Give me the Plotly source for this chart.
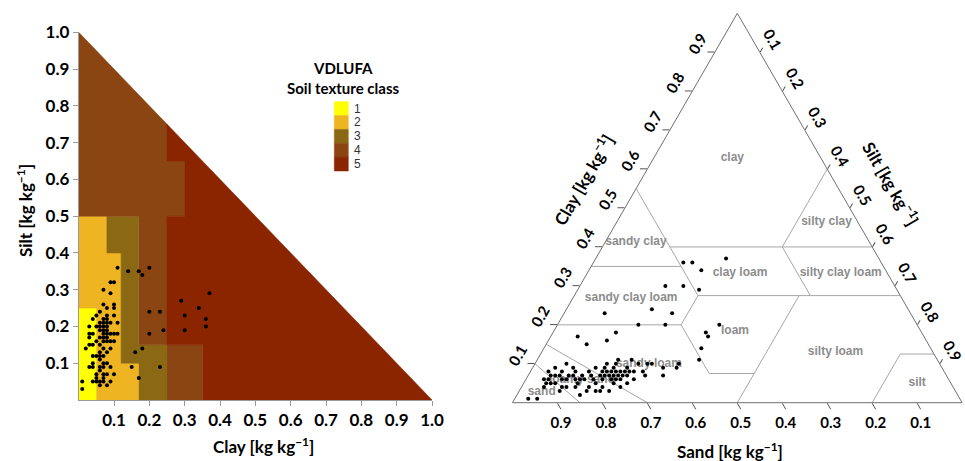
import plotly.graph_objects as go

W, H = 965, 461

# ---------------------------------------------------------------
# Sample composition (mass fractions, kg kg-1)
# ---------------------------------------------------------------
clay_frac = [
    0.01, 0.01,
    0.02,
    0.03, 0.03, 0.03, 0.03, 0.03,
    0.04, 0.04, 0.04, 0.04, 0.04, 0.04, 0.04,
    0.05, 0.05, 0.05, 0.05, 0.05, 0.05, 0.05,
    0.06, 0.06, 0.06, 0.06, 0.06, 0.06, 0.06, 0.06, 0.06, 0.06, 0.06, 0.06, 0.06,
    0.07, 0.07, 0.07, 0.07, 0.07, 0.07, 0.07, 0.07, 0.07, 0.07, 0.07, 0.07, 0.07, 0.07, 0.07, 0.07,
    0.08, 0.08, 0.08, 0.08, 0.08, 0.08, 0.08, 0.08, 0.08, 0.08, 0.08, 0.08, 0.08,
    0.09, 0.09, 0.09, 0.09, 0.09, 0.09, 0.09, 0.09,
    0.10, 0.10, 0.10, 0.10, 0.10, 0.10, 0.10,
    0.11, 0.11, 0.11,
    0.14, 0.17, 0.18, 0.20, 0.29, 0.37, 0.34, 0.20, 0.23, 0.30,
    0.36, 0.36, 0.24, 0.30, 0.20, 0.18, 0.16, 0.15, 0.23, 0.17,
]
silt_frac = [
    0.03, 0.05,
    0.14,
    0.09, 0.15, 0.17, 0.18, 0.20,
    0.05, 0.09, 0.10, 0.12, 0.15, 0.18, 0.22,
    0.05, 0.06, 0.07, 0.12, 0.16, 0.20, 0.23,
    0.04, 0.05, 0.08, 0.09, 0.11, 0.12, 0.13, 0.15, 0.17, 0.19, 0.20, 0.21, 0.24,
    0.05, 0.06, 0.07, 0.09, 0.10, 0.12, 0.14, 0.16, 0.17, 0.18, 0.19, 0.20, 0.21, 0.22, 0.26, 0.30,
    0.04, 0.07, 0.10, 0.13, 0.16, 0.17, 0.18, 0.19, 0.20, 0.21, 0.22, 0.23, 0.25,
    0.05, 0.09, 0.14, 0.16, 0.18, 0.21, 0.29, 0.32,
    0.07, 0.16, 0.18, 0.23, 0.25, 0.26, 0.32,
    0.18, 0.21, 0.36,
    0.35, 0.35, 0.34, 0.36, 0.27, 0.29, 0.25, 0.24, 0.24, 0.23,
    0.22, 0.20, 0.19, 0.19, 0.18, 0.14, 0.13, 0.09, 0.09, 0.06,
]
sand_frac = [round(1 - c - s, 3) for c, s in zip(clay_frac, silt_frac)]

# ---------------------------------------------------------------
# VDLUFA soil texture classes: polygons in (clay, silt) space
# ---------------------------------------------------------------
vdlufa_classes = ["1", "2", "3", "4", "5"]
vdlufa_colors = ["#FFFF00", "#EEB422", "#8B6914", "#8B4513", "#8B2500"]
vdlufa_polygons = [
    ("1", [0, 0.05, 0.05, 0], [0, 0, 0.25, 0.25]),
    ("2", [0.05, 0.17, 0.17, 0.12, 0.12, 0.08, 0.08, 0, 0, 0.05],
          [0, 0, 0.10, 0.10, 0.40, 0.40, 0.50, 0.50, 0.25, 0.25]),
    ("3", [0.17, 0.25, 0.25, 0.17, 0.17, 0.08, 0.08, 0.12, 0.12, 0.17],
          [0, 0, 0.15, 0.15, 0.50, 0.50, 0.40, 0.40, 0.10, 0.10]),
    ("4", [0.17, 0.25, 0.25, 0.30, 0.30, 0.25, 0.25, 0, 0, 0.17],
          [0.15, 0.15, 0.50, 0.50, 0.65, 0.65, 0.75, 1.0, 0.50, 0.50]),
    ("4", [0.25, 0.35, 0.35, 0.25], [0, 0, 0.15, 0.15]),
    ("5", [0.35, 1.0, 0.25, 0.25, 0.30, 0.30, 0.25, 0.25, 0.35],
          [0, 0, 0.75, 0.65, 0.65, 0.50, 0.50, 0.15, 0.15]),
]
axis_ticks = [0.1, 0.2, 0.3, 0.4, 0.5, 0.6, 0.7, 0.8, 0.9, 1.0]

# ---------------------------------------------------------------
# USDA texture triangle: boundary vertices (clay, silt, sand) in %
# ---------------------------------------------------------------
usda_clay = [55, 40, 40, 60, 40, 35, 35, 27.5, 27.5, 27.5, 20, 20, 7.5, 7.5, 0, 12.5, 12.5, 0, 15, 0, 10, 0, 27.5]
usda_silt = [0, 15, 40, 40, 60, 0, 20, 27.5, 52.5, 72.5, 0, 27.5, 40, 50, 50, 80, 87.5, 80, 0, 30, 0, 15, 50]
usda_sand = [45, 45, 20, 0, 0, 65, 45, 45, 20, 0, 80, 52.5, 52.5, 42.5, 50, 7.5, 0, 20, 85, 70, 90, 85, 22.5]
usda_lines = [
    [0, 1], [1, 2], [2, 3], [2, 4], [5, 6], [1, 6, 7], [7, 8], [2, 8], [8, 9],
    [7, 11], [10, 11], [11, 12], [12, 13], [22, 13, 14], [15, 16], [15, 17],
    [18, 19], [20, 21],
]
usda_names = ["clay", "silty clay", "sandy clay", "clay loam", "silty clay loam",
              "sandy clay loam", "loam", "silty loam", "sandy loam", "loamy sand",
              "sand", "silt"]
usda_name_clay = [0.628, 0.463, 0.413, 0.334, 0.334, 0.268, 0.184, 0.129, 0.099, 0.057, 0.028, 0.050]
usda_name_silt = [0.175, 0.467, 0.068, 0.339, 0.563, 0.130, 0.403, 0.654, 0.254, 0.126, 0.051, 0.875]
tern_ticks = [0.1, 0.2, 0.3, 0.4, 0.5, 0.6, 0.7, 0.8, 0.9]

BOLD = "Lato"
LABEL_FONT = dict(family=BOLD, size=17, color="black", weight="bold")


def px_x(v):
    return v / W


def px_y(v):
    return 1 - v / H


fig = go.Figure()

# --- left panel: VDLUFA classes ---------------------------------
color_of = dict(zip(vdlufa_classes, vdlufa_colors))
for cls, xs, ys in vdlufa_polygons:
    fig.add_trace(go.Scatter(
        x=xs, y=ys, fill="toself", mode="lines",
        fillcolor=color_of[cls], line=dict(color=color_of[cls], width=0.6),
        hoverinfo="skip", showlegend=False, xaxis="x", yaxis="y",
    ))

fig.add_trace(go.Scatter(
    x=clay_frac, y=silt_frac, mode="markers",
    marker=dict(color="black", size=4),
    showlegend=False, xaxis="x", yaxis="y",
))

# --- right panel: USDA ternary ----------------------------------
for seg in usda_lines:
    fig.add_trace(go.Scatterternary(
        a=[usda_clay[i] / 100 for i in seg],
        b=[usda_sand[i] / 100 for i in seg],
        c=[usda_silt[i] / 100 for i in seg],
        mode="lines", line=dict(color="#a6a6a6", width=1),
        hoverinfo="skip", showlegend=False, subplot="ternary",
    ))

fig.add_trace(go.Scatterternary(
    a=usda_name_clay,
    c=usda_name_silt,
    b=[round(1 - a - c, 3) for a, c in zip(usda_name_clay, usda_name_silt)],
    mode="text", text=usda_names,
    textfont=dict(family="Liberation Sans", size=12, color="#8c8c8c", weight="bold"),
    hoverinfo="skip", showlegend=False, subplot="ternary",
))

fig.add_trace(go.Scatterternary(
    a=clay_frac, b=sand_frac, c=silt_frac, mode="markers",
    marker=dict(color="black", size=4),
    showlegend=False, subplot="ternary",
))

tern_axis = dict(
    min=0, showgrid=False, showline=True, linecolor="#707070", linewidth=1,
    ticks="outside", ticklen=7, tickcolor="#555555",
    tickmode="array", tickvals=tern_ticks, tickformat=".1f",
    tickfont=dict(family=BOLD, size=15, color="black", weight="bold"),
    title=dict(text=""),
)

fig.update_layout(
    width=W, height=H,
    margin=dict(l=0, r=0, t=0, b=0, autoexpand=False),
    paper_bgcolor="white", plot_bgcolor="white",
    xaxis=dict(
        domain=[px_x(78.7), px_x(432)], range=[0, 1],
        showgrid=False, zeroline=False,
        showline=True, linecolor="#9a9a9a", linewidth=1,
        ticks="outside", ticklen=5, tickcolor="#9a9a9a",
        tickmode="array", tickvals=axis_ticks, tickformat=".1f",
        tickfont=LABEL_FONT, anchor="y",
    ),
    yaxis=dict(
        domain=[px_y(400), px_y(32.3)], range=[0, 1],
        showgrid=False, zeroline=False,
        showline=True, linecolor="#9a9a9a", linewidth=1,
        ticks="outside", ticklen=5, tickcolor="#9a9a9a",
        tickmode="array", tickvals=axis_ticks, tickformat=".1f",
        tickfont=LABEL_FONT, anchor="x",
    ),
    ternary=dict(
        domain=dict(x=[px_x(512.3), px_x(962.3)], y=[px_y(402.7), px_y(13.3)]),
        sum=1, bgcolor="white",
        aaxis=dict(tern_axis, tickangle=-60),
        baxis=dict(tern_axis, tickangle=0),
        caxis=dict(tern_axis, tickangle=60, ticklen=5),
    ),
)


def note(x, y, text, font, angle=0, xanchor="center"):
    fig.add_annotation(x=px_x(x), y=px_y(y), xref="paper", yref="paper",
                       text=text, showarrow=False, textangle=angle,
                       xanchor=xanchor, yanchor="middle", font=font)


# legend of VDLUFA classes (colour swatches)
box_top, box_h, box_x0, box_x1 = 101.7, 13.86, 334.3, 348.3
for i, (cls, col) in enumerate(zip(vdlufa_classes, vdlufa_colors)):
    y0 = box_top + i * box_h
    fig.add_shape(type="rect", xref="paper", yref="paper",
                  x0=px_x(box_x0), x1=px_x(box_x1), y0=px_y(y0), y1=px_y(y0 + box_h),
                  fillcolor=col, line=dict(color=col, width=0.5))
    note(352, y0 + box_h / 2, cls,
         dict(family="Liberation Sans", size=12, color="#333333"), xanchor="left")

LEG_FONT = dict(family=BOLD, size=15, color="black", weight="bold")
note(343, 68, "VDLUFA", LEG_FONT)
note(343, 88, "Soil texture class", LEG_FONT)

# axis titles
TITLE_FONT = dict(family=BOLD, size=17, color="black", weight="bold")
unit = " [kg kg<sup>−1</sup>]"
note(263, 445, "Clay" + unit, TITLE_FONT)
note(24, 211, "Silt" + unit, TITLE_FONT, angle=-90)
note(730, 450, "Sand" + unit, TITLE_FONT)
note(583.3, 180, "Clay" + unit, TITLE_FONT, angle=-60)
note(891.7, 183.3, "Silt" + unit, TITLE_FONT, angle=60)

fig.write_html("out.html")
